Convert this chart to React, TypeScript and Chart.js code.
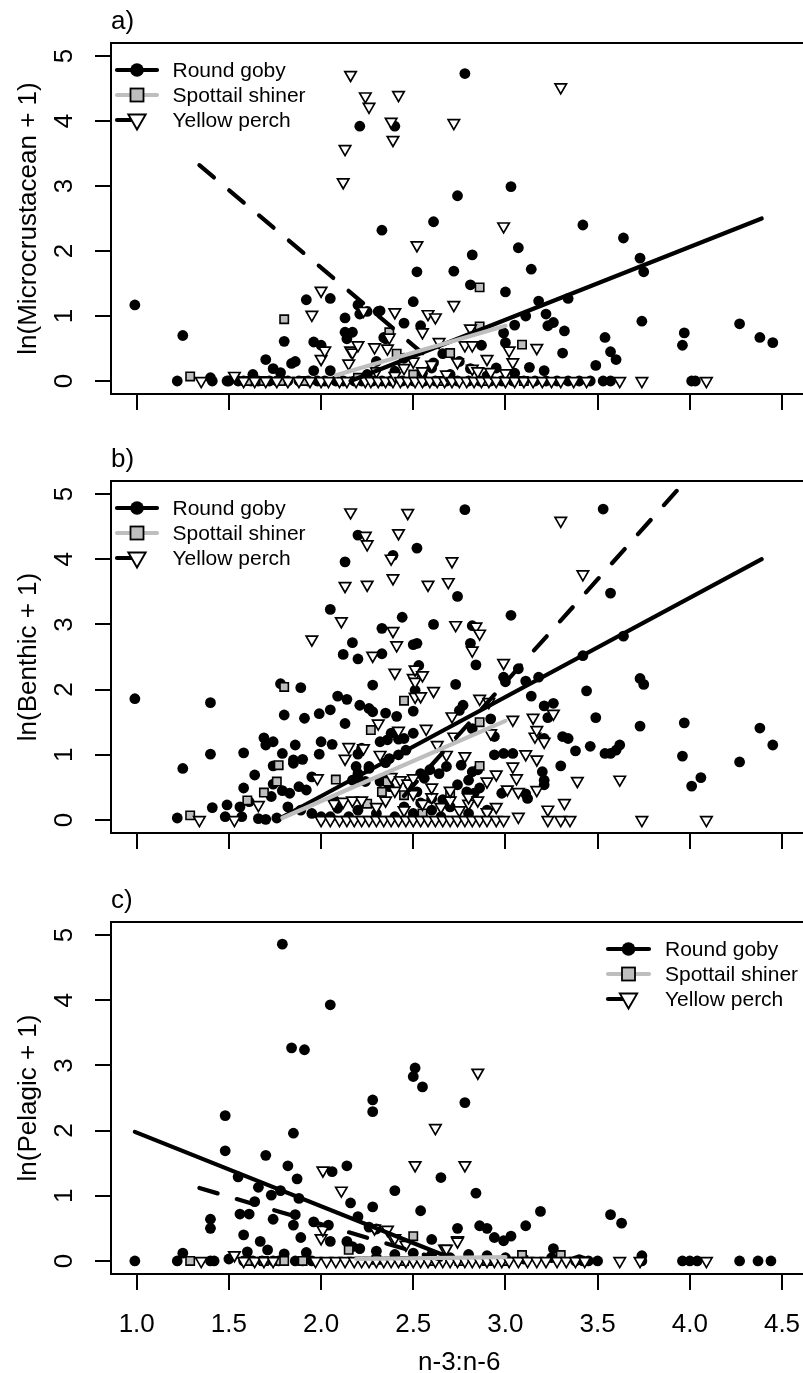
import React, { useEffect, useRef } from 'react';
import { Chart, registerables } from 'chart.js';

Chart.register(...registerables);

type P = [number, number];

// ---------- axis / text data ----------
const xTickValues = [1.0, 1.5, 2.0, 2.5, 3.0, 3.5, 4.0, 4.5];
const xTickLabels = ['1.0', '1.5', '2.0', '2.5', '3.0', '3.5', '4.0', '4.5'];
const yTickValues = [0, 1, 2, 3, 4, 5];
const yTickLabels = ['0', '1', '2', '3', '4', '5'];
const speciesNames = ['Round goby', 'Spottail shiner', 'Yellow perch'];
const panelLabels = ['a)', 'b)', 'c)'];
const yTitles = ['ln(Microcrustacean + 1)', 'ln(Benthic + 1)', 'ln(Pelagic + 1)'];
const xTitle = 'n-3:n-6';

// ---------- panel a: Microcrustacean ----------
const aGoby: P[] = [
  [0.99, 1.17], [1.25, 0.7], [1.22, 0], [1.4, 0.05], [1.41, 0], [1.49, 0], [1.5, 0], [1.55, 0], [1.58, 0],
  [1.63, 0.1], [1.62, 0], [1.66, 0], [1.7, 0.33], [1.72, 0], [1.74, 0.19], [1.76, 0], [1.78, 0.13], [1.8, 0.61],
  [1.82, 0], [1.84, 0.27], [1.86, 0.3], [1.88, 0], [1.92, 1.25], [1.93, 0], [1.96, 0.6], [1.96, 0.16], [1.98, 0],
  [2.0, 0.55], [2.02, 0], [2.05, 1.27], [2.05, 0.16], [2.08, 0], [2.12, 0], [2.13, 0.97], [2.13, 0.75], [2.14, 0.65],
  [2.17, 0.75], [2.18, 0], [2.2, 1.17], [2.21, 1.03], [2.21, 3.92], [2.22, 0], [2.25, 1.07], [2.25, 0.1], [2.28, 0],
  [2.3, 0.3], [2.31, 1.07], [2.32, 1.08], [2.33, 2.32], [2.33, 0], [2.34, 0.67], [2.35, 0.65], [2.38, 0], [2.4, 3.92],
  [2.4, 0.15], [2.44, 0], [2.45, 0.89], [2.45, 0.35], [2.5, 1.22], [2.5, 0], [2.52, 1.68], [2.54, 0.85], [2.55, 0.12],
  [2.56, 0], [2.6, 0.2], [2.61, 2.45], [2.61, 0.28], [2.62, 0], [2.66, 0.42], [2.68, 0], [2.7, 0.1], [2.72, 1.69],
  [2.74, 2.85], [2.74, 0], [2.75, 0.3], [2.78, 4.73], [2.8, 0], [2.81, 1.48], [2.81, 0.19], [2.82, 1.94], [2.86, 0],
  [2.87, 0.55], [2.9, 0.08], [2.92, 0], [2.95, 0.2], [2.98, 0], [2.99, 0.74], [3.0, 1.37], [3.0, 0.59], [3.03, 2.99],
  [3.04, 0], [3.05, 0.86], [3.05, 0.12], [3.07, 2.05], [3.1, 0], [3.11, 1.0], [3.13, 0.21], [3.14, 1.72], [3.16, 0],
  [3.18, 1.23], [3.21, 0.16], [3.22, 1.03], [3.22, 0], [3.23, 0.85], [3.26, 0.9], [3.28, 0], [3.31, 0.43], [3.32, 0.77],
  [3.34, 1.27], [3.34, 0], [3.4, 0], [3.42, 2.4], [3.46, 0], [3.49, 0.24], [3.53, 0], [3.54, 0.67], [3.57, 0.45],
  [3.57, 0], [3.6, 0.33], [3.64, 2.2], [3.73, 1.89], [3.74, 0.92], [3.75, 1.68], [3.96, 0.55], [3.97, 0.74], [4.01, 0],
  [4.03, 0], [4.27, 0.88], [4.38, 0.67], [4.45, 0.59],
];
const aShiner: P[] = [
  [1.29, 0.07], [1.6, 0], [1.69, 0], [1.78, 0], [1.8, 0.95], [1.91, 0], [2.2, 0.05], [2.37, 0.75], [2.41, 0.42],
  [2.5, 0.1], [2.65, 0], [2.7, 0.43], [2.86, 1.44], [2.86, 0.84], [2.9, 0], [3.09, 0.56], [3.1, 0],
];
const aPerch: P[] = [
  [1.35, 0], [1.53, 0.08], [1.58, 0], [1.64, 0], [1.7, 0], [1.76, 0], [1.82, 0], [1.88, 0], [1.94, 0], [1.95, 1.02],
  [2.0, 1.39], [2.0, 0.34], [2.0, 0], [2.02, 0.47], [2.04, 0], [2.1, 0], [2.12, 3.06], [2.13, 3.57], [2.14, 0],
  [2.15, 0.27], [2.16, 4.71], [2.16, 0.47], [2.17, 0.44], [2.19, 0], [2.2, 0.55], [2.23, 1.08], [2.24, 4.38], [2.24, 0],
  [2.26, 4.22], [2.27, 0], [2.29, 0.52], [2.3, 0.15], [2.31, 0], [2.35, 0], [2.36, 0.5], [2.37, 0.67], [2.38, 3.99],
  [2.39, 3.71], [2.39, 0], [2.4, 1.06], [2.4, 0.08], [2.42, 4.4], [2.43, 0], [2.45, 0.2], [2.47, 0], [2.5, 0.3],
  [2.51, 0], [2.52, 2.09], [2.55, 0.75], [2.55, 0.15], [2.55, 0], [2.58, 1.03], [2.59, 0], [2.6, 0.25], [2.62, 0.98],
  [2.63, 0], [2.64, 0.6], [2.67, 0], [2.68, 0.1], [2.71, 0], [2.72, 3.97], [2.72, 1.17], [2.74, 0.29], [2.75, 0],
  [2.78, 0.55], [2.79, 0], [2.81, 0.81], [2.82, 0.55], [2.82, 0.19], [2.83, 0], [2.85, 0.15], [2.87, 0], [2.9, 0.34],
  [2.91, 0], [2.92, 0.14], [2.95, 0], [2.99, 2.38], [3.0, 0.12], [3.0, 0], [3.02, 0.47], [3.04, 0.29], [3.05, 0],
  [3.1, 0], [3.15, 0], [3.17, 0.51], [3.2, 0], [3.25, 0], [3.3, 4.52], [3.3, 0], [3.37, 0], [3.44, 0], [3.62, 0],
  [3.74, 0], [4.09, 0],
];
const aGobyFit: P[] = [[2.16, 0.0], [4.39, 2.5]];
const aShinerFit: P[] = [[2.08, 0.09], [3.0, 0.85]];
const aPerchFit: P[] = [[1.34, 3.32], [2.55, 0.43]];

// ---------- panel b: Benthic ----------
const bGoby: P[] = [
  [0.99, 1.86], [1.25, 0.79], [1.22, 0.03], [1.4, 1.8], [1.4, 1.01], [1.41, 0.19], [1.49, 0.23], [1.48, 0.05],
  [1.58, 1.03], [1.64, 0.69], [1.58, 0.49], [1.56, 0.2], [1.61, 0.28], [1.57, 0.05], [1.69, 1.26], [1.74, 1.2],
  [1.7, 1.15], [1.78, 2.09], [1.89, 2.03], [1.8, 1.61], [1.91, 1.56], [1.99, 1.63], [2.05, 1.69], [1.79, 1.02],
  [1.86, 1.15], [1.85, 0.92], [1.9, 0.93], [1.85, 0.87], [1.74, 0.83], [1.99, 1.01], [2.0, 1.2], [2.06, 1.16],
  [1.79, 0.45], [1.83, 0.41], [1.88, 0.51], [1.92, 0.46], [1.95, 0.66], [1.73, 0.36], [1.74, 0.55], [1.66, 0.02],
  [1.7, 0.01], [1.76, 0.03], [1.82, 0.2], [1.89, 0.15], [1.95, 0.1], [2.0, 0.05], [2.05, 3.23], [2.13, 3.96],
  [2.17, 2.72], [2.12, 2.54], [2.2, 2.47], [2.28, 2.07], [2.33, 2.94], [2.33, 2.55], [2.2, 4.37], [2.39, 4.06],
  [2.09, 1.9], [2.14, 1.85], [2.21, 1.76], [2.26, 1.71], [2.28, 1.66], [2.13, 1.48], [2.35, 1.64], [2.41, 1.59],
  [2.2, 1.01], [2.22, 1.1], [2.32, 1.2], [2.36, 1.23], [2.38, 1.33], [2.07, 0.31], [2.09, 0.18], [2.2, 0.71],
  [2.17, 0.61], [2.26, 0.79], [2.35, 0.88], [2.37, 0.94], [2.32, 0.59], [2.37, 0.51], [2.36, 0.66], [2.44, 3.11],
  [2.5, 2.69], [2.52, 2.71], [2.52, 4.17], [2.5, 1.67], [2.42, 1.24], [2.45, 1.25], [2.5, 1.33], [2.19, 0.82],
  [2.26, 0.82], [2.2, 0.64], [2.24, 0.59], [2.42, 1.0], [2.46, 1.07], [2.05, 0.05], [2.15, 0.05], [2.2, 0.15],
  [2.3, 0.1], [2.4, 0.05], [2.45, 0.2], [2.5, 0.1], [2.55, 0.05], [2.6, 0.15], [2.65, 0.05], [2.7, 0.2], [2.8, 0.1],
  [2.9, 0.15], [2.78, 4.76], [3.53, 4.77], [2.74, 3.43], [3.57, 3.48], [2.61, 3.0], [3.03, 3.14], [2.82, 2.98],
  [2.81, 2.71], [2.84, 2.38], [2.73, 2.08], [2.53, 2.37], [3.42, 2.52], [3.44, 1.98], [2.99, 2.19], [3.0, 2.12],
  [3.07, 2.32], [3.11, 2.13], [3.18, 2.19], [3.14, 1.9], [3.49, 1.57], [3.21, 1.75], [3.26, 1.79], [3.23, 1.57],
  [2.77, 1.76], [2.75, 1.68], [2.51, 1.99], [2.92, 1.55], [2.94, 1.28], [2.82, 1.4], [3.31, 1.28], [3.34, 1.25],
  [3.38, 1.06], [3.46, 1.13], [3.54, 1.02], [3.57, 1.02], [3.6, 1.07], [3.62, 1.15], [2.94, 1.0], [2.99, 1.02],
  [3.04, 1.02], [3.2, 0.74], [3.21, 0.61], [3.21, 0.54], [3.3, 0.83], [3.12, 0.33], [3.11, 0.4], [2.98, 0.41],
  [3.21, 1.25], [2.82, 0.74], [2.8, 0.61], [2.85, 0.77], [2.76, 0.84], [2.68, 0.82], [2.64, 0.71], [2.54, 0.71],
  [2.56, 0.64], [2.59, 0.77], [2.48, 0.54], [2.52, 0.43], [2.74, 0.54], [2.79, 0.43], [2.86, 0.49], [2.83, 0.41],
  [2.6, 0.33], [2.66, 0.31], [2.54, 0.26], [3.73, 1.44], [3.73, 2.17], [3.75, 2.08], [3.64, 2.82], [3.97, 1.49],
  [3.96, 0.98], [4.27, 0.89], [4.01, 0.52], [4.06, 0.65], [4.38, 1.41], [4.45, 1.15],
];
const bShiner: P[] = [
  [1.29, 0.07], [1.6, 0.3], [1.69, 0.42], [1.76, 0.59], [1.77, 0.84], [1.8, 2.04], [2.08, 0.62], [2.25, 0.25],
  [2.27, 1.38], [2.33, 0.43], [2.36, 0.59], [2.45, 1.83], [2.45, 0.38], [2.55, 0.1], [2.7, 0.41], [2.86, 1.5],
  [2.86, 0.83],
];
const bPerch: P[] = [
  [1.34, 0], [1.53, 0], [1.66, 0.23], [1.95, 2.77], [1.98, 0.64], [2.0, 0], [2.05, 0], [2.07, 0.25], [2.1, 0],
  [2.11, 3.05], [2.12, 0.28], [2.13, 3.59], [2.13, 0.94], [2.14, 0], [2.15, 1.12], [2.16, 4.72], [2.17, 0.3],
  [2.18, 0], [2.22, 0.3], [2.22, 0], [2.23, 1.1], [2.24, 4.36], [2.25, 4.23], [2.25, 3.61], [2.26, 0], [2.28, 2.52],
  [2.3, 0.2], [2.3, 0], [2.31, 1.48], [2.32, 1.0], [2.34, 0], [2.35, 0.3], [2.38, 4.01], [2.38, 0.66], [2.38, 0],
  [2.39, 3.71], [2.39, 2.9], [2.4, 2.26], [2.4, 0.45], [2.41, 2.68], [2.42, 4.4], [2.42, 1.37], [2.42, 0],
  [2.43, 0.61], [2.45, 0.15], [2.46, 0], [2.47, 4.71], [2.47, 0.56], [2.5, 2.18], [2.5, 0.64], [2.5, 0.4], [2.5, 0],
  [2.51, 2.12], [2.51, 1.89], [2.51, 2.31], [2.54, 1.9], [2.54, 0], [2.55, 2.22], [2.55, 0.25], [2.57, 1.4],
  [2.58, 3.61], [2.58, 0], [2.6, 0.35], [2.6, 0.5], [2.61, 1.98], [2.62, 0], [2.63, 1.15], [2.65, 0.2], [2.66, 0],
  [2.68, 1.0], [2.69, 3.65], [2.7, 0.3], [2.7, 0.45], [2.7, 0], [2.71, 3.97], [2.71, 1.59], [2.72, 1.28],
  [2.73, 2.99], [2.74, 0], [2.75, 0.15], [2.78, 0.98], [2.78, 0], [2.8, 0.25], [2.8, 0.35], [2.82, 2.6], [2.82, 0],
  [2.84, 2.97], [2.85, 0.3], [2.86, 2.86], [2.86, 1.86], [2.86, 0], [2.9, 0.59], [2.9, 0.12], [2.9, 0],
  [2.91, 1.81], [2.92, 1.33], [2.95, 0.7], [2.95, 0.2], [2.95, 0], [2.99, 2.41], [2.99, 0], [3.01, 0.47],
  [3.04, 1.54], [3.04, 0.82], [3.06, 0.64], [3.07, 0.43], [3.07, 0.05], [3.11, 1.01], [3.15, 1.57], [3.16, 1.28],
  [3.17, 1.38], [3.17, 0.93], [3.17, 0.46], [3.21, 1.2], [3.23, 0.16], [3.23, 0], [3.26, 1.63], [3.3, 4.59],
  [3.3, 0], [3.32, 0.26], [3.35, 0], [3.39, 0.6], [3.42, 3.77], [3.62, 0.62], [3.74, 0], [4.09, 0],
];
const bGobyFit: P[] = [[1.78, 0.03], [4.39, 4.0]];
const bShinerFit: P[] = [[1.79, 0.03], [3.0, 1.52]];
const bPerchFit: P[] = [[2.45, 0.37], [4.1, 5.59]];

// ---------- panel c: Pelagic ----------
const cGoby: P[] = [
  [0.99, 0], [1.22, 0], [1.25, 0.12], [1.4, 0.64], [1.4, 0.5], [1.4, 0], [1.42, 0], [1.48, 2.23], [1.48, 1.69],
  [1.5, 0.03], [1.55, 1.29], [1.56, 0.72], [1.58, 0.4], [1.58, 0], [1.6, 0.14], [1.61, 0.72], [1.63, 0],
  [1.64, 0.91], [1.66, 1.13], [1.67, 0.3], [1.68, 0], [1.7, 1.62], [1.71, 0.17], [1.73, 1.01], [1.74, 0.64],
  [1.74, 0], [1.77, 0], [1.78, 1.08], [1.79, 4.86], [1.8, 0.11], [1.82, 1.46], [1.84, 3.27], [1.85, 1.96],
  [1.85, 0.55], [1.86, 0.71], [1.86, 0], [1.87, 1.26], [1.88, 0.96], [1.89, 0.36], [1.9, 0], [1.91, 3.24],
  [1.92, 0.13], [1.95, 0], [1.96, 0.6], [2.04, 0.55], [2.05, 3.93], [2.05, 0.3], [2.06, 1.37], [2.14, 1.46],
  [2.14, 0.3], [2.16, 0.89], [2.17, 0.22], [2.2, 0.68], [2.21, 0.19], [2.26, 0.52], [2.28, 2.47], [2.28, 2.29],
  [2.28, 0.83], [2.3, 0.49], [2.3, 0.15], [2.4, 1.08], [2.4, 0.1], [2.5, 2.83], [2.5, 0.12], [2.51, 2.96],
  [2.54, 0.77], [2.55, 2.67], [2.6, 0.33], [2.6, 0.1], [2.65, 1.28], [2.7, 0.05], [2.74, 0.5], [2.78, 2.43],
  [2.8, 0.1], [2.84, 1.04], [2.86, 0.54], [2.9, 0.5], [2.9, 0.08], [2.94, 0.36], [2.99, 0.31], [3.0, 0.05],
  [3.03, 0.38], [3.1, 0.03], [3.11, 0.54], [3.19, 0.76], [3.25, 0.05], [3.26, 0.19], [3.38, 0], [3.4, 0.02],
  [3.42, 0], [3.45, 0], [3.5, 0], [3.57, 0.71], [3.63, 0.58], [3.74, 0.08], [3.74, 0], [3.96, 0], [4.0, 0],
  [4.04, 0], [4.27, 0], [4.37, 0], [4.44, 0],
];
const cShiner: P[] = [
  [1.29, 0], [1.6, 0], [1.69, 0], [1.78, 0], [1.8, 0], [1.9, 0], [2.15, 0.17], [2.3, 0.02], [2.45, 0], [2.5, 0.38],
  [2.6, 0], [2.75, 0], [2.9, 0], [3.0, 0], [3.09, 0.09], [3.3, 0.09],
];
const cPerch: P[] = [
  [1.35, 0], [1.53, 0.09], [1.58, 0], [1.64, 0], [1.69, 0], [1.74, 0], [1.97, 0], [2.0, 0.35], [2.01, 1.39],
  [2.01, 0.48], [2.03, 0], [2.08, 0], [2.11, 1.08], [2.13, 0], [2.18, 0], [2.22, 0], [2.26, 0], [2.29, 0.5],
  [2.3, 0], [2.34, 0], [2.36, 0.48], [2.38, 0], [2.39, 0.35], [2.4, 0.35], [2.42, 0], [2.46, 0.25], [2.46, 0],
  [2.5, 0], [2.51, 1.47], [2.54, 0], [2.58, 0], [2.62, 2.04], [2.62, 0], [2.66, 0], [2.67, 0.19], [2.68, 0.19],
  [2.7, 0], [2.74, 0.32], [2.74, 0.3], [2.74, 0], [2.78, 1.47], [2.78, 0], [2.82, 0], [2.85, 2.89], [2.86, 0],
  [2.9, 0], [2.94, 0], [2.98, 0], [3.02, 0], [3.07, 0], [3.12, 0], [3.17, 0], [3.22, 0], [3.28, 0], [3.33, 0],
  [3.38, 0], [3.43, 0], [3.62, 0], [3.73, 0], [4.09, 0],
];
const cGobyFit: P[] = [[0.99, 1.98], [2.7, 0.05]];
const cShinerFit: P[] = [[2.19, 0.03], [3.0, 0.06]];
const cPerchFit: P[] = [[1.34, 1.12], [2.65, 0.02]];

// ---------- styling ----------
const FONT = '"Liberation Sans", Arial, Helvetica, sans-serif';
const CANVAS_W = 820;
const PLOT_LEFT = 111;
const PLOT_RIGHT = 807.4;
const GREY = '#bebebe';

type Panel = {
  idx: number;
  goby: P[]; shiner: P[]; perch: P[];
  gobyFit: P[]; shinerFit: P[]; perchFit: P[];
  top: number; height: number; areaTop: number; areaBottom: number;
  legend: { lx1: number; lx2: number; mx: number; tx: number };
  xLabels: boolean;
};

const LEG_LEFT = { lx1: 117, lx2: 157, mx: 137, tx: 172.5 };
const LEG_RIGHT = { lx1: 608, lx2: 649, mx: 628.5, tx: 665 };

const PANELS: Panel[] = [
  { idx: 0, goby: aGoby, shiner: aShiner, perch: aPerch, gobyFit: aGobyFit, shinerFit: aShinerFit, perchFit: aPerchFit,
    top: 0, height: 440, areaTop: 43, areaBottom: 394, legend: LEG_LEFT, xLabels: false },
  { idx: 1, goby: bGoby, shiner: bShiner, perch: bPerch, gobyFit: bGobyFit, shinerFit: bShinerFit, perchFit: bPerchFit,
    top: 440, height: 440, areaTop: 41, areaBottom: 393, legend: LEG_LEFT, xLabels: false },
  { idx: 2, goby: cGoby, shiner: cShiner, perch: cPerch, gobyFit: cGobyFit, shinerFit: cShinerFit, perchFit: cPerchFit,
    top: 880, height: 493, areaTop: 42, areaBottom: 394, legend: LEG_RIGHT, xLabels: true },
];

const toXY = (pts: P[]) => pts.map(([x, y]) => ({ x, y }));

function drawLegendMarker(ctx: CanvasRenderingContext2D, kind: number, x: number, y: number) {
  ctx.save();
  ctx.setLineDash([]);
  if (kind === 0) {
    ctx.beginPath();
    ctx.arc(x, y, 6.8, 0, Math.PI * 2);
    ctx.fillStyle = '#000';
    ctx.fill();
  } else if (kind === 1) {
    ctx.fillStyle = GREY;
    ctx.fillRect(x - 6.5, y - 6.5, 13, 13);
    ctx.lineWidth = 1.8;
    ctx.strokeStyle = '#000';
    ctx.strokeRect(x - 6.5, y - 6.5, 13, 13);
  } else {
    const r = 10;
    ctx.beginPath();
    ctx.moveTo(x, y + r);
    ctx.lineTo(x - r * 0.866, y - r / 2);
    ctx.lineTo(x + r * 0.866, y - r / 2);
    ctx.closePath();
    ctx.fillStyle = '#fff';
    ctx.fill();
    ctx.lineWidth = 1.9;
    ctx.strokeStyle = '#000';
    ctx.stroke();
  }
  ctx.restore();
}

function makeDecor(p: Panel) {
  return {
    id: 'decor' + p.idx,
    afterDraw(chart: any) {
      const { ctx, chartArea: a, scales } = chart;
      const xs = scales.x;
      const ys = scales.y;
      ctx.save();
      // box
      ctx.strokeStyle = '#000';
      ctx.lineWidth = 2;
      ctx.setLineDash([]);
      ctx.strokeRect(a.left, a.top, a.right - a.left, a.bottom - a.top);
      ctx.fillStyle = '#000';
      ctx.font = `26px ${FONT}`;
      // y tick labels (rotated)
      ys.ticks.forEach((t: any) => {
        const i = yTickValues.indexOf(t.value);
        const py = ys.getPixelForValue(t.value);
        ctx.save();
        ctx.translate(72, py);
        ctx.rotate(-Math.PI / 2);
        ctx.textAlign = 'center';
        ctx.textBaseline = 'alphabetic';
        ctx.fillText(yTickLabels[i], 0, 0);
        ctx.restore();
      });
      // y title
      ctx.save();
      ctx.translate(36, (a.top + a.bottom) / 2);
      ctx.rotate(-Math.PI / 2);
      ctx.textAlign = 'center';
      ctx.textBaseline = 'alphabetic';
      ctx.fillText(yTitles[p.idx], 0, 0);
      ctx.restore();
      // x tick labels + title
      if (p.xLabels) {
        ctx.textAlign = 'center';
        ctx.textBaseline = 'alphabetic';
        xs.ticks.forEach((t: any) => {
          const i = xTickValues.indexOf(t.value);
          ctx.fillText(xTickLabels[i], xs.getPixelForValue(t.value), a.bottom + 58);
        });
        ctx.fillText(xTitle, (a.left + a.right) / 2, a.bottom + 96);
      }
      // panel label
      ctx.textAlign = 'left';
      ctx.fillText(panelLabels[p.idx], 111, a.top - 14);
      // legend
      const L = p.legend;
      ctx.font = `21px ${FONT}`;
      for (let i = 0; i < 3; i++) {
        const by = a.top + 34 + 25 * i;
        const my = by - 7;
        ctx.save();
        ctx.lineWidth = 4.2;
        ctx.lineCap = 'round';
        ctx.strokeStyle = i === 1 ? GREY : '#000';
        ctx.setLineDash(i === 2 ? [17, 40] : []);
        ctx.beginPath();
        ctx.moveTo(L.lx1, my);
        ctx.lineTo(L.lx2, my);
        ctx.stroke();
        ctx.restore();
        drawLegendMarker(ctx, i, L.mx, i === 2 ? my - 0.5 : my);
        ctx.fillStyle = '#000';
        ctx.textAlign = 'left';
        ctx.textBaseline = 'alphabetic';
        ctx.fillText(speciesNames[i], L.tx, by);
      }
      ctx.restore();
    },
  };
}

function makeChart(canvas: HTMLCanvasElement, p: Panel) {
  const fit = (pts: P[], color: string, dash: number[], order: number) => ({
    data: toXY(pts),
    showLine: true,
    borderColor: color,
    borderWidth: 4.2,
    borderDash: dash,
    borderCapStyle: 'round',
    pointRadius: 0,
    pointHoverRadius: 0,
    fill: false,
    tension: 0,
    clip: 0,
    order,
  });
  return new Chart(canvas, {
    type: 'scatter',
    data: {
      datasets: [
        fit(p.shinerFit, GREY, [], 0),
        fit(p.perchFit, '#000', [19, 20], 1),
        fit(p.gobyFit, '#000', [], 2),
        {
          label: speciesNames[2], data: toXY(p.perch), showLine: false, order: 3,
          pointStyle: 'triangle', pointRotation: 180, pointRadius: 6.6, pointHoverRadius: 6.6,
          pointBackgroundColor: '#fff', pointBorderColor: '#000', pointBorderWidth: 1.7,
        },
        {
          label: speciesNames[1], data: toXY(p.shiner), showLine: false, order: 4,
          pointStyle: 'rect', pointRadius: 5.9, pointHoverRadius: 5.9,
          pointBackgroundColor: GREY, pointBorderColor: '#000', pointBorderWidth: 1.6,
        },
        {
          label: speciesNames[0], data: toXY(p.goby), showLine: false, order: 5,
          pointStyle: 'circle', pointRadius: 5.4, pointHoverRadius: 5.4,
          pointBackgroundColor: '#000', pointBorderColor: '#000', pointBorderWidth: 0,
        },
      ] as any,
    },
    options: {
      animation: false,
      responsive: false,
      maintainAspectRatio: false,
      devicePixelRatio: 1,
      events: [],
      layout: { padding: { top: p.areaTop, right: CANVAS_W - PLOT_RIGHT, left: 0, bottom: 0 } },
      plugins: { legend: { display: false }, tooltip: { enabled: false }, title: { display: false } },
      scales: {
        x: {
          type: 'linear', position: 'bottom', min: 0.8606, max: 4.6378,
          afterBuildTicks: (s: any) => { s.ticks = xTickValues.map((v) => ({ value: v })); },
          afterFit: (s: any) => { s.height = p.height - p.areaBottom; },
          grid: { display: true, drawOnChartArea: false, drawTicks: true, tickLength: 16, color: '#000', lineWidth: 2 },
          border: { display: false },
          ticks: { display: false },
        },
        y: {
          type: 'linear', position: 'left', min: -0.2, max: 5.2,
          afterBuildTicks: (s: any) => { s.ticks = yTickValues.map((v) => ({ value: v })); },
          afterFit: (s: any) => { s.width = PLOT_LEFT; },
          grid: { display: true, drawOnChartArea: false, drawTicks: true, tickLength: 16, color: '#000', lineWidth: 2 },
          border: { display: false },
          ticks: { display: false },
        },
      },
    } as any,
    plugins: [makeDecor(p)],
  });
}

export default function App() {
  const r0 = useRef<HTMLCanvasElement>(null);
  const r1 = useRef<HTMLCanvasElement>(null);
  const r2 = useRef<HTMLCanvasElement>(null);
  useEffect(() => {
    const refs = [r0, r1, r2];
    const charts = PANELS.map((p, i) => makeChart(refs[i].current as HTMLCanvasElement, p));
    return () => charts.forEach((c) => c.destroy());
  }, []);
  const refs = [r0, r1, r2];
  return (
    <div style={{ position: 'absolute', left: 0, top: 0, width: 803, height: 1373, overflow: 'hidden', background: '#fff' }}>
      {PANELS.map((p, i) => (
        <canvas
          key={i}
          ref={refs[i]}
          width={CANVAS_W}
          height={p.height}
          style={{ position: 'absolute', left: 0, top: p.top, width: CANVAS_W, height: p.height }}
        />
      ))}
    </div>
  );
}
